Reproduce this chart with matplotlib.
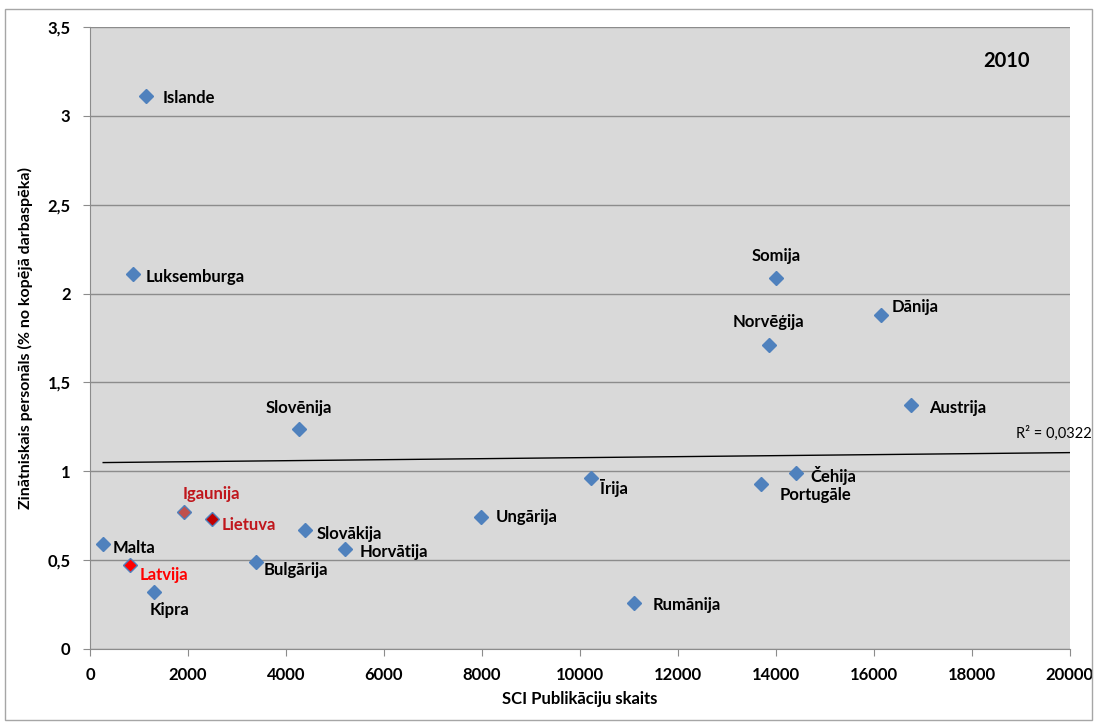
import numpy as np
import matplotlib.pyplot as plt
from matplotlib.ticker import FuncFormatter

plt.rcParams['font.family'] = ['Lato', 'DejaVu Sans']

# country, SCI publications, research staff (% of workforce)
countries = ['Islande', 'Luksemburga', 'Slovēnija', 'Somija', 'Dānija', 'Norvēģija',
             'Austrija', 'Čehija', 'Portugāle', 'Īrija', 'Ungārija', 'Slovākija',
             'Horvātija', 'Bulgārija', 'Rumānija', 'Malta', 'Kipra',
             'Igaunija', 'Lietuva', 'Latvija']
publications = [1140, 880, 4270, 14000, 16150, 13860, 16760, 14410, 13710, 10220,
                7980, 4390, 5200, 3390, 11100, 270, 1310, 1920, 2490, 820]
staff = [3.11, 2.11, 1.24, 2.09, 1.88, 1.71, 1.37, 0.99, 0.93, 0.96,
         0.74, 0.67, 0.56, 0.49, 0.26, 0.59, 0.32, 0.77, 0.73, 0.47]

# linear trendline as shown in the chart
trend_intercept = 1.048
trend_slope = 2.84e-6
trend_r2 = '0,0322'

# label offsets in pixels (dx, dy) and alignment
offsets = [(17, -2, 'left'), (13, -3, 'left'), (0, 21, 'center'), (0, 22, 'center'),
           (11, 8, 'left'), (0, 23, 'center'), (18, -3, 'left'), (15, -2, 'left'),
           (18, -11, 'left'), (9, -10, 'left'), (15, 0, 'left'), (12, -4, 'left'),
           (15, -3, 'left'), (8, -8, 'left'), (19, -2, 'left'), (9, -4, 'left'),
           (-4, -18, 'left'), (-1, 18, 'left'), (10, -6, 'left'), (10, -10, 'left')]

baltic_face = {'Igaunija': '#C0504D', 'Lietuva': '#C00000', 'Latvija': '#FF0000'}
baltic_text = {'Igaunija': '#C0161C', 'Lietuva': '#C0161C', 'Latvija': '#FF0000'}

fig = plt.figure(figsize=(10.97, 7.22), dpi=100)
ax = fig.add_axes([0.082, 0.1012, 0.893, 0.8614])
ax.set_facecolor('#D9D9D9')

# outer chart border
fig.patches.append(plt.Rectangle((0.005, 0.003), 0.99, 0.985, transform=fig.transFigure,
                                 fill=False, edgecolor='#A6A6A6', linewidth=1))

x = np.array(publications, dtype=float)

xt = np.array([x.min(), 20000])
ax.plot(xt, trend_intercept + trend_slope * xt, color='black', linewidth=1, zorder=2)
ax.annotate('R² = ' + trend_r2, (20000, trend_intercept + trend_slope * 20000),
            xytext=(22, 19), textcoords='offset pixels', ha='right', va='center',
            fontsize=10.5, color='black', annotation_clip=False)

for name, xi, yi, (dx, dy, ha) in zip(countries, publications, staff, offsets):
    face = baltic_face.get(name, '#4F81BD')
    ax.plot(xi, yi, marker='D', markersize=7, markerfacecolor=face,
            markeredgecolor='#4F81BD', markeredgewidth=1, linestyle='none', zorder=3)
    ax.annotate(name, (xi, yi), xytext=(dx, dy), textcoords='offset pixels',
                ha=ha, va='center', fontsize=12, fontweight='bold',
                color=baltic_text.get(name, 'black'))

ax.text(0.959, 0.945, '2010', transform=ax.transAxes, ha='right', va='center',
        fontsize=14.5, fontweight='bold')

ax.set_xlim(0, 20000)
ax.set_ylim(0, 3.5)
ax.set_xticks(np.arange(0, 20001, 2000))
ax.set_yticks(np.arange(0, 3.51, 0.5))
ax.yaxis.set_major_formatter(FuncFormatter(lambda v, p: f'{v:g}'.replace('.', ',')))
ax.grid(axis='y', color='#8C8C8C', linewidth=1)
ax.set_axisbelow(True)
for side in ['top', 'right']:
    ax.spines[side].set_visible(False)
for side in ['left', 'bottom']:
    ax.spines[side].set_color('#8C8C8C')
ax.tick_params(axis='both', colors='#8C8C8C', labelcolor='black', labelsize=12,
               length=5, direction='out')
ax.tick_params(axis='x', pad=8)
ax.tick_params(axis='y', pad=9)
for lbl in ax.get_xticklabels() + ax.get_yticklabels():
    lbl.set_fontweight('bold')

ax.set_xlabel('SCI Publikāciju skaits', fontsize=12, fontweight='bold', labelpad=6)
ax.set_ylabel('Zinātniskais personāls (% no kopējā darbaspēka)', fontsize=11.5,
              fontweight='bold', labelpad=10)

fig.savefig('out.png', dpi=100)
